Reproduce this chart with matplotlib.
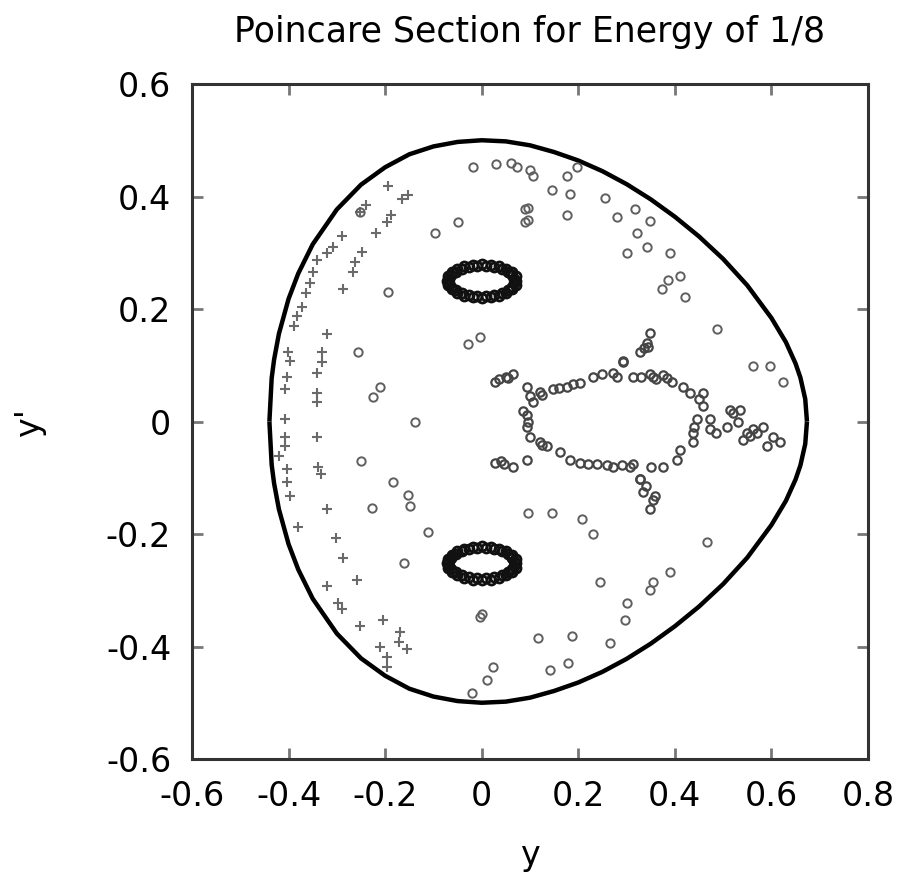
import matplotlib
matplotlib.use('Agg')
import matplotlib.pyplot as plt

# energy surface boundary (upper half)
edge_y = [-0.4397, -0.435, -0.43, -0.42, -0.40, -0.38, -0.35, -0.30, -0.25, -0.20, -0.15,
          -0.10, -0.05, 0.0, 0.05, 0.10, 0.15, 0.20, 0.25, 0.30, 0.35, 0.40, 0.45, 0.50,
          0.55, 0.60, 0.63, 0.65, 0.66, 0.67, 0.6736]
edge_py = [0.0, 0.077, 0.110, 0.156, 0.218, 0.263, 0.315, 0.377, 0.421, 0.452, 0.475,
           0.489, 0.497, 0.500, 0.498, 0.491, 0.479, 0.464, 0.445, 0.422, 0.395, 0.364,
           0.329, 0.289, 0.242, 0.184, 0.141, 0.103, 0.078, 0.040, 0.0]

# two small islands around (0, +-0.25)
isl_up_y = [0.072, 0.070, 0.062, 0.051, 0.036, 0.019, 0.0, -0.019, -0.036, -0.051, -0.062, -0.070,
            -0.072, -0.070, -0.062, -0.051, -0.036, -0.019, 0.0, 0.019, 0.036, 0.051, 0.062, 0.070,
            0.067, 0.063, 0.054, 0.041, 0.026, 0.009, -0.009, -0.026, -0.041, -0.054, -0.063, -0.067,
            -0.067, -0.063, -0.054, -0.041, -0.026, -0.009, 0.009, 0.026, 0.041, 0.054, 0.063, 0.067]
isl_up_py = [0.250, 0.258, 0.265, 0.271, 0.276, 0.279, 0.280, 0.279, 0.276, 0.271, 0.265, 0.258,
             0.250, 0.242, 0.235, 0.229, 0.224, 0.221, 0.220, 0.221, 0.224, 0.229, 0.235, 0.242,
             0.254, 0.260, 0.266, 0.271, 0.275, 0.277, 0.277, 0.275, 0.271, 0.266, 0.260, 0.254,
             0.246, 0.240, 0.234, 0.229, 0.225, 0.223, 0.223, 0.225, 0.229, 0.234, 0.240, 0.246]
isl_dn_y = [0.072, 0.070, 0.062, 0.051, 0.036, 0.019, 0.0, -0.019, -0.036, -0.051, -0.062, -0.070,
            -0.072, -0.070, -0.062, -0.051, -0.036, -0.019, 0.0, 0.019, 0.036, 0.051, 0.062, 0.070,
            0.067, 0.063, 0.054, 0.041, 0.026, 0.009, -0.009, -0.026, -0.041, -0.054, -0.063, -0.067,
            -0.067, -0.063, -0.054, -0.041, -0.026, -0.009, 0.009, 0.026, 0.041, 0.054, 0.063, 0.067]
isl_dn_py = [-0.252, -0.260, -0.267, -0.273, -0.278, -0.281, -0.282, -0.281, -0.278, -0.273, -0.267, -0.260,
             -0.252, -0.244, -0.237, -0.231, -0.226, -0.223, -0.222, -0.223, -0.226, -0.231, -0.237, -0.244,
             -0.256, -0.262, -0.268, -0.273, -0.277, -0.279, -0.279, -0.277, -0.273, -0.268, -0.262, -0.256,
             -0.248, -0.242, -0.236, -0.231, -0.227, -0.225, -0.225, -0.227, -0.231, -0.236, -0.242, -0.248]

# outer orbit, drawn with plus signs
plus_y = [-0.195, -0.153, -0.187, -0.218, -0.197, -0.290, -0.309, -0.321, -0.342, -0.247, -0.263,
          -0.267, -0.350, -0.356, -0.288, -0.363, -0.373, -0.383, -0.388, -0.321, -0.402, -0.398,
          -0.330, -0.330, -0.404, -0.408, -0.342, -0.342, -0.342, -0.408,
          -0.408, -0.408, -0.419, -0.404, -0.404, -0.398, -0.381, -0.342, -0.340, -0.332, -0.321,
          -0.301, -0.288, -0.321, -0.259, -0.298, -0.290, -0.253, -0.205, -0.211, -0.197, -0.197,
          -0.170, -0.155, -0.253, -0.240, -0.165, -0.172]
plus_py = [0.418, 0.402, 0.368, 0.336, 0.354, 0.329, 0.311, 0.300, 0.288, 0.302, 0.283,
           0.265, 0.265, 0.247, 0.235, 0.229, 0.204, 0.187, 0.169, 0.155, 0.123, 0.107,
           0.123, 0.105, 0.080, 0.057, 0.087, 0.051, 0.034, 0.004,
           -0.027, -0.044, -0.062, -0.085, -0.108, -0.133, -0.187, -0.027, -0.080, -0.094, -0.156,
           -0.207, -0.242, -0.293, -0.281, -0.322, -0.334, -0.364, -0.352, -0.400, -0.418, -0.436,
           -0.375, -0.405, 0.373, 0.385, 0.395, -0.392]

# chaotic orbit, drawn with open circles
circ_y = [-0.019, 0.073, -0.253, -0.050, -0.097, 0.089, 0.089, -0.195, -0.257, -0.211, -0.226,
          -0.139, -0.004, -0.029, 0.099, 0.106, 0.176, 0.197, 0.145, 0.182,
          0.095, 0.095, 0.176, 0.255, 0.280, 0.317, 0.348, 0.321, 0.300, 0.342, 0.390, 0.386,
          0.410, 0.373, 0.421, 0.487, 0.562, 0.597, 0.624,
          0.095, 0.145, 0.207, 0.230, 0.466, 0.245, 0.300, 0.296, 0.348,
          0.390, 0.354, -0.004, 0.116, 0.186, 0.265, 0.023, 0.010, 0.141, 0.178, -0.249, -0.184,
          -0.153, -0.149, -0.228, -0.112, -0.160, 0.0, -0.021, 0.030, 0.060]
circ_py = [0.453, 0.453, 0.373, 0.354, 0.336, 0.377, 0.354, 0.231, 0.123, 0.062, 0.044,
           0.000, 0.151, 0.137, 0.448, 0.436, 0.436, 0.452, 0.412, 0.404,
           0.380, 0.359, 0.368, 0.398, 0.363, 0.377, 0.356, 0.336, 0.300, 0.311, 0.300, 0.252,
           0.258, 0.235, 0.222, 0.164, 0.098, 0.098, 0.071,
           -0.162, -0.162, -0.174, -0.200, -0.215, -0.286, -0.322, -0.352, -0.299,
           -0.268, -0.286, -0.347, -0.384, -0.382, -0.393, -0.436, -0.459, -0.441, -0.429, -0.071, -0.108,
           -0.130, -0.151, -0.153, -0.196, -0.251, -0.343, -0.482, 0.458, 0.460]

# separatrix layer around the central island
loop_y = [0.027, 0.035, 0.064, 0.055, 0.093, 0.120, 0.125, 0.147, 0.176, 0.203, 0.230, 0.272,
          0.313, 0.354, 0.360, 0.292, 0.106, 0.093, 0.093, 0.099, 0.120, 0.125, 0.135, 0.162,
          0.182, 0.203, 0.238, 0.272, 0.313, 0.327, 0.027, 0.040, 0.064, 0.093, 0.085,
          0.342, 0.348, 0.345, 0.327, 0.292, 0.280, 0.348, 0.383, 0.375, 0.417, 0.431, 0.458,
          0.458, 0.446, 0.472, 0.472, 0.514, 0.520, 0.535, 0.508, 0.549, 0.555, 0.562, 0.582,
          0.603, 0.618, 0.591, 0.541, 0.437, 0.437, 0.410, 0.404, 0.375, 0.307, 0.327, 0.334,
          0.354, 0.358, 0.348,
          0.160, 0.190, 0.250, 0.330, 0.220, 0.290, 0.350, 0.450, 0.440, 0.485, 0.100, 0.096,
          0.050, 0.046, 0.336, 0.340, 0.570, 0.530, 0.395, 0.260]
loop_py = [0.071, 0.076, 0.084, 0.078, 0.062, 0.053, 0.047, 0.057, 0.062, 0.069, 0.080, 0.087,
           0.080, 0.080, 0.076, 0.105, 0.034, 0.012, -0.009, -0.027, -0.036, -0.042, -0.044, -0.055,
           -0.068, -0.073, -0.076, -0.080, -0.076, -0.103, -0.073, -0.070, -0.080, -0.068, 0.018,
           0.140, 0.158, 0.132, 0.123, 0.107, 0.080, 0.084, 0.078, 0.083, 0.062, 0.051, 0.051,
           0.027, 0.004, 0.004, -0.014, 0.021, 0.015, 0.021, -0.009, -0.020, -0.025, -0.014, -0.009,
           -0.027, -0.037, -0.044, -0.032, -0.020, -0.037, -0.050, -0.068, -0.080, -0.080, -0.103, -0.126,
           -0.139, -0.132, -0.156,
           0.060, 0.066, 0.084, 0.080, -0.075, -0.078, -0.080, 0.040, -0.010, -0.020, 0.045, 0.000,
           0.080, -0.075, 0.130, -0.115, -0.020, 0.000, 0.070, -0.078]

fig = plt.figure(figsize=(9.07, 8.84), dpi=100)
ax = fig.add_axes([192 / 907, 125 / 884, 676 / 907, 675 / 884])

font = ['Liberation Sans Narrow', 'DejaVu Sans']

ax.plot(edge_y, edge_py, color='black', lw=3.2, solid_capstyle='butt')
ax.plot(edge_y, [-v for v in edge_py], color='black', lw=3.2, solid_capstyle='butt')

ax.plot(plus_y, plus_py, linestyle='none', marker='+', ms=7.5, mew=1.5, color='#6a6a6a')
ax.plot(circ_y, circ_py, linestyle='none', marker='o', ms=6, mew=1.4,
        mfc='none', mec='#5f5f5f')
ax.plot(loop_y, loop_py, linestyle='none', marker='o', ms=6, mew=1.6,
        mfc='none', mec='#454545')
ax.plot(isl_up_y, isl_up_py, linestyle='none', marker='o', ms=6.5, mew=2,
        mfc='none', mec='#111111')
ax.plot(isl_dn_y, isl_dn_py, linestyle='none', marker='o', ms=6.5, mew=2,
        mfc='none', mec='#111111')

ax.set_xlim(-0.6, 0.8)
ax.set_ylim(-0.6, 0.6)
ax.set_xticks([-0.6, -0.4, -0.2, 0, 0.2, 0.4, 0.6, 0.8])
ax.set_xticklabels(['-0.6', '-0.4', '-0.2', '0', '0.2', '0.4', '0.6', '0.8'])
ax.set_yticks([-0.6, -0.4, -0.2, 0, 0.2, 0.4, 0.6])
ax.set_yticklabels(['-0.6', '-0.4', '-0.2', '0', '0.2', '0.4', '0.6'])
ax.tick_params(direction='in', length=8, width=2, color='#777777',
               top=True, right=True, labelsize=24, pad=15)
for lab in ax.get_xticklabels() + ax.get_yticklabels():
    lab.set_family(font)
for sp in ax.spines.values():
    sp.set_linewidth(2.2)
    sp.set_color('#333333')

fig.text(530 / 907, 1 - 32 / 884, 'Poincare Section for Energy of 1/8', ha='center', va='center',
         fontsize=25, family=font)
fig.text(530 / 907, 1 - 855 / 884, 'y', ha='center', va='center', fontsize=24, family=font)
fig.text(30 / 907, 1 - 422 / 884, "y'", ha='center', va='center', rotation=90, fontsize=24,
         family=font)

fig.savefig('out.png', dpi=100)
